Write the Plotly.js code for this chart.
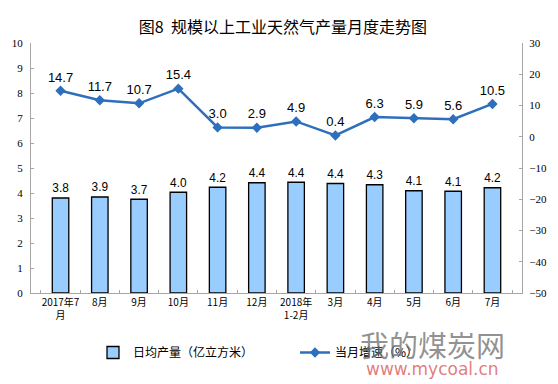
<!DOCTYPE html>
<html>
<head>
<meta charset="utf-8">
<script src="https://cdn.plot.ly/plotly-3.0.1.min.js"></script>
<style>html,body{margin:0;padding:0;background:#fff;}#chart{width:558px;height:384px;}</style>
</head>
<body>
<div id="chart"></div>
<script>
var categories = ['2017年7<br>月','8月','9月','10月','11月','12月','2018年<br>1-2月','3月','4月','5月','6月','7月'];
var dailyOutput = [3.80, 3.84, 3.75, 4.03, 4.23, 4.41, 4.43, 4.38, 4.33, 4.09, 4.07, 4.21];
var dailyOutputLabels = ['3.8','3.9','3.7','4.0','4.2','4.4','4.4','4.4','4.3','4.1','4.1','4.2'];
var growthRate = [14.7, 11.7, 10.7, 15.4, 3.0, 2.9, 4.9, 0.4, 6.3, 5.9, 5.6, 10.5];
var growthLabels = ['14.7','11.7','10.7','15.4','3.0','2.9','4.9','0.4','6.3','5.9','5.6','10.5'];
var leftTicks = [0,1,2,3,4,5,6,7,8,9,10];
var rightTicks = [-50,-40,-30,-20,-10,0,10,20,30];

var labelFont = {family: 'Liberation Sans, Arial, sans-serif', size: 13, color: '#000'};
var cjk = 'Noto Sans CJK SC, sans-serif';

var traces = [
  {
    type: 'bar', x: categories, y: dailyOutput, name: '日均产量（亿立方米）',
    marker: {color: '#99ccff', line: {color: '#000', width: 1.3}},
    width: 0.42,
    text: dailyOutputLabels, textposition: 'outside', textfont: labelFont,
    cliponaxis: false, hoverinfo: 'x+y'
  },
  {
    type: 'scatter', mode: 'lines+markers+text', x: categories, y: growthRate, yaxis: 'y2',
    name: '当月增速（%）',
    line: {color: '#2e6fbd', width: 2.5},
    marker: {symbol: 'diamond', size: 8, color: '#2e6fbd'},
    text: growthLabels, textposition: 'top center', textfont: labelFont,
    cliponaxis: false
  }
];

var layout = {
  width: 558, height: 384,
  margin: {l: 31, r: 36, t: 43, b: 91},
  paper_bgcolor: '#fff', plot_bgcolor: '#fff',
  font: {family: cjk, color: '#000'},
  title: {text: '图8  规模以上工业天然气产量月度走势图', font: {family: cjk, size: 16, color: '#000'},
          x: 0.507, xanchor: 'center', y: 1 - 27/384, yanchor: 'middle'},
  bargap: 0.58,
  xaxis: {
    type: 'category', showgrid: false, zeroline: false,
    showline: true, linecolor: '#a6a6a6', linewidth: 1,
    ticks: 'inside', ticklen: 3, tickcolor: '#a6a6a6', tickson: 'boundaries',
    tickfont: {family: cjk, size: 10, color: '#000'}, tickangle: 0
  },
  yaxis: {
    range: [0, 10], tickvals: leftTicks, showgrid: false, zeroline: false,
    showline: true, linecolor: '#a6a6a6', linewidth: 1,
    ticks: 'inside', ticklen: 3, tickcolor: '#a6a6a6',
    tickfont: {family: 'Liberation Serif, Times New Roman, serif', size: 11, color: '#000'},
    ticklabelstandoff: 5
  },
  yaxis2: {
    range: [-50, 30], tickvals: rightTicks, overlaying: 'y', side: 'right',
    showgrid: false, zeroline: false,
    showline: true, linecolor: '#a6a6a6', linewidth: 1,
    ticks: 'inside', ticklen: 3, tickcolor: '#a6a6a6',
    tickfont: {family: 'Liberation Serif, Times New Roman, serif', size: 11, color: '#000'},
    ticklabelstandoff: 4
  },
  showlegend: true,
  legend: {
    orientation: 'h', xref: 'container', yref: 'container',
    x: 93/558, xanchor: 'left', y: 1 - 338/384, yanchor: 'top',
    entrywidth: 157, entrywidthmode: 'pixels',
    font: {family: cjk, size: 12, color: '#000'},
    bgcolor: 'rgba(0,0,0,0)', traceorder: 'normal'
  },
  annotations: [
    {text: '我的煤炭网', xref: 'paper', yref: 'paper', x: (432-31)/491, y: -(344-293)/250,
     showarrow: false, font: {family: cjk, size: 29, color: 'rgba(110,110,110,0.75)'}, xanchor: 'center', yanchor: 'middle'},
    {text: 'www.mycoal.cn', xref: 'paper', yref: 'paper', x: (432-31)/491, y: -(369-293)/250,
     showarrow: false, font: {family: 'DejaVu Sans, sans-serif', size: 17, color: 'rgba(220,90,90,0.8)'}, xanchor: 'center', yanchor: 'middle'}
  ]
};

Plotly.newPlot('chart', traces, layout, {displayModeBar: false, staticPlot: true});
</script>
</body>
</html>
